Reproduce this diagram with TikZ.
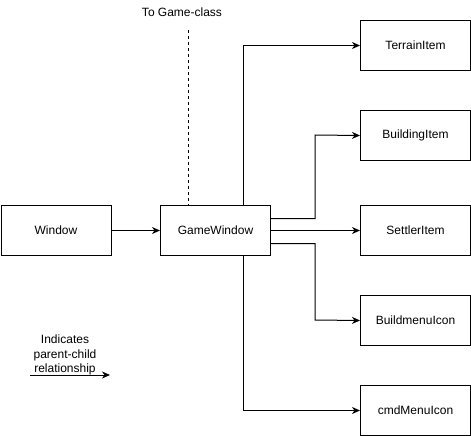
\documentclass[tikz,border=0pt]{standalone}
\usepackage{fontspec}
\setmainfont{Liberation Sans}
\usetikzlibrary{arrows.meta}
\begin{document}
\begin{tikzpicture}[x=1pt,y=-1pt,
  box/.style={draw,line width=1pt,minimum width=110pt,minimum height=50pt,inner sep=0pt,font=\fontsize{12pt}{14pt}\selectfont,anchor=north west},
  conn/.style={line width=1pt,-{Stealth[length=8pt,width=7pt,inset=2.5pt]}},
  lbl/.style={font=\fontsize{12pt}{14.5pt}\selectfont,inner sep=0pt,align=center}]
\useasboundingbox (0,0) rectangle (471,436);
\node[box] (win) at (0.5,205) {Window};
\node[box] (gw) at (160,205) {GameWindow};
\node[box] (ti) at (360,20) {TerrainItem};
\node[box] (bi) at (360,110) {BuildingItem};
\node[box] (si) at (360,205) {SettlerItem};
\node[box] (bm) at (360,295) {BuildmenuIcon};
\node[box] (cm) at (360,385) {cmdMenuIcon};
\node[lbl] (tg) at (182,12) {To Game-class};
\coordinate (dtop) at (188.5,30);
\draw[line width=1pt,dash pattern=on 3pt off 3pt] (dtop) -- (dtop |- gw.north);
\draw[conn] (win) -- (gw);
\draw[conn] (gw.north -| 243,0) |- (ti.west);
\draw[conn] ([yshift=12pt]gw.east) -| (315,135) -- (bi.west);
\draw[conn] (gw) -- (si);
\draw[conn] ([yshift=-13pt]gw.east) -| (315,320) -- (bm.west);
\draw[conn] (gw.south -| 243,0) |- (cm.west);
\node[lbl] (leg) at (65,355) {Indicates\\parent-child\\relationship};
\coordinate (la) at (30,375);
\coordinate (lb) at (110,375);
\draw[conn] (la) -- (lb);
\end{tikzpicture}
\end{document}
